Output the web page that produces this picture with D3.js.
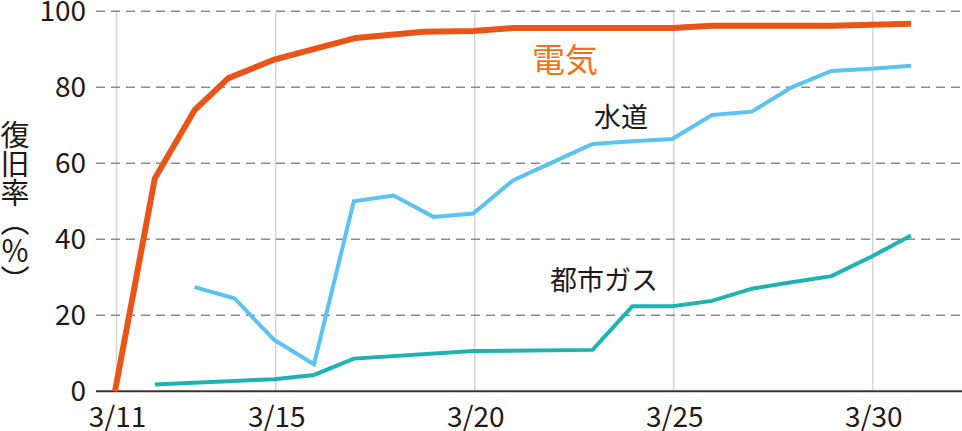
<!DOCTYPE html>
<html><head><meta charset="utf-8">
<script src="https://cdn.jsdelivr.net/npm/d3@7"></script>
<style>
html,body{margin:0;padding:0;background:#fff;}
svg{display:block;font-family:"Noto Sans CJK JP","Noto Sans",sans-serif;}
</style></head>
<body><svg id="c" width="962" height="431"></svg>
<script>
// data (x = day of March 2011)
const yTicks = [0,20,40,60,80,100];
const xTicks = [11,15,20,25,30];
const xTickLabels = ["3/11","3/15","3/20","3/25","3/30"];
const elecDays = [11,12,13,13.85,15,17.05,18.75,20,21,25,26,29,31];
const elecVals = [0,56,74,82.4,87.3,93,94.6,94.8,95.6,95.6,96.2,96.2,96.7];
const waterDays = [13,14,15,16,17,18,19,20,21,22,23,24,25,26,27,28,29,30,31];
const waterVals = [27.4,24.5,13.5,7.1,50,51.5,45.9,46.8,55.5,60.3,65.1,65.8,66.4,72.7,73.6,80,84.3,84.9,85.7];
const gasDays = [12,15,16,17,20,23,24,25,26,27,28,29,30,31];
const gasVals = [1.8,3.2,4.3,8.6,10.6,10.9,22.4,22.4,23.8,27,28.7,30.3,35.4,41];
const seriesNames = ["電気","水道","都市ガス"];
const yTitle = "復旧率（％）";

const svg = d3.select("#c");
const x = d3.scaleLinear().domain([11,31]).range([115,911]);
const y = d3.scaleLinear().domain([0,100]).range([391.3,11.3]);
const left = 96, right = 962;

// vertical gridlines
svg.append("g").selectAll("line").data(xTicks).join("line")
  .attr("x1",d=>x(d)+1.5).attr("x2",d=>x(d)+1.5)
  .attr("y1",y(100)+1).attr("y2",y(0))
  .attr("stroke","#d4d4d4").attr("stroke-width",1.5);

// horizontal dashed gridlines
svg.append("g").selectAll("line").data(yTicks.filter(d=>d>0)).join("line")
  .attr("x1",left).attr("x2",right)
  .attr("y1",d=>y(d)).attr("y2",d=>y(d))
  .attr("stroke","#8a8a8a").attr("stroke-width",1.6)
  .attr("stroke-dasharray","9,6");

// baseline
svg.append("line").attr("x1",left).attr("x2",right)
  .attr("y1",y(0)).attr("y2",y(0))
  .attr("stroke","#3a3331").attr("stroke-width",2);

// y axis labels
const ya = svg.append("g").attr("transform",`translate(86,0)`)
  .call(d3.axisLeft(y).tickValues(yTicks).tickSize(0).tickPadding(0));
ya.select(".domain").remove();
ya.selectAll("text").attr("font-size",28).attr("fill","#231815")
  .attr("font-family","'Noto Sans CJK JP',sans-serif").attr("dy","0.34em");

// x axis labels
const xa = svg.append("g").attr("transform",`translate(2,${y(0)})`)
  .call(d3.axisBottom(x).tickValues(xTicks).tickFormat((d,i)=>xTickLabels[i]).tickSize(0).tickPadding(0));
xa.select(".domain").remove();
xa.selectAll("text").attr("font-size",28).attr("fill","#231815")
  .attr("font-family","'Noto Sans CJK JP',sans-serif").attr("dy","1.27em");

const line = d3.line().x(d=>x(d[0])).y(d=>y(d[1]));
const mk = (days,vals)=>days.map((d,i)=>[d,vals[i]]);

svg.append("path").datum(mk(gasDays,gasVals)).attr("d",line)
  .attr("fill","none").attr("stroke","#1db3b3").attr("stroke-width",4).attr("stroke-linejoin","miter");
svg.append("path").datum(mk(waterDays,waterVals)).attr("d",line)
  .attr("fill","none").attr("stroke","#5bc3ef").attr("stroke-width",4).attr("stroke-linejoin","miter");
svg.append("path").datum(mk(elecDays,elecVals)).attr("d",line)
  .attr("fill","none").attr("stroke","#e95517").attr("stroke-width",6).attr("stroke-linejoin","miter");

// series labels
svg.append("text").attr("x",565).attr("y",y(87.6)).attr("text-anchor","middle")
  .attr("dominant-baseline","central").attr("font-size",33).attr("fill","#ee7318")
  .text(seriesNames[0]);
svg.append("text").attr("x",621).attr("y",y(72.6)).attr("text-anchor","middle")
  .attr("dominant-baseline","central").attr("font-size",27).attr("fill","#231815")
  .text(seriesNames[1]);
svg.append("text").attr("x",604).attr("y",y(29.6)).attr("text-anchor","middle")
  .attr("dominant-baseline","central").attr("font-size",27).attr("fill","#231815")
  .text(seriesNames[2]);

// y title (vertical)
svg.append("text").attr("x",15).attr("y",120)
  .attr("font-size",29).attr("fill","#231815")
  .style("writing-mode","vertical-rl")
  .text(yTitle);
</script></body></html>
